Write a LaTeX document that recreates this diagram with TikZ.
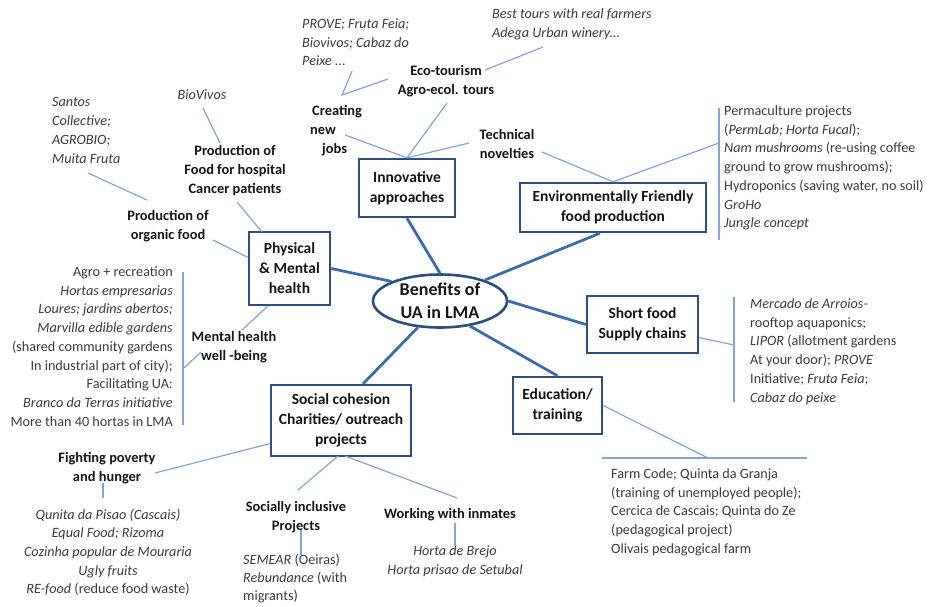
\documentclass[tikz,border=0pt]{standalone}
\usepackage{fontspec}
\setmainfont{Carlito}
\usetikzlibrary{shapes.geometric}
\definecolor{boxc}{HTML}{2B4F7E}
\definecolor{thickc}{HTML}{3C6BB0}
\definecolor{thinc}{HTML}{80A5D6}
\definecolor{txtc}{HTML}{3C3C3C}
\definecolor{boldc}{HTML}{151515}
\tikzset{
  box/.style={draw=boxc, line width=2.4pt, fill=white, align=center, inner sep=2pt,
    text=boldc, font=\bfseries\fontsize{15.5}{20}\selectfont},
  hub/.style={ellipse, draw=boxc, line width=2.6pt, fill=white, align=center, inner sep=0pt,
    minimum width=134, minimum height=53, text=boldc, font=\bfseries\fontsize{18}{23}\selectfont},
  thick/.style={draw=thickc, line width=2.8pt},
  thin/.style={draw=thinc, line width=1.2pt},
  lbl/.style={inner sep=0pt, yshift=-2.5pt, text=boldc, font=\bfseries\fontsize{14.4}{18.7}\selectfont},
  itx/.style={inner sep=0pt, yshift=-2.5pt, text=txtc, font=\itshape\fontsize{14.2}{18.7}\selectfont},
  rtx/.style={inner sep=0pt, yshift=-2.5pt, text=txtc, font=\fontsize{14.2}{18.7}\selectfont},
}
\begin{document}
\begin{tikzpicture}[x=1pt,y=-1pt]
\useasboundingbox[fill=white] (0,0) rectangle (936,606);

% ---- main nodes
\node[hub] (ctr) at (440,301) {Benefits of\\UA in LMA};
\node[box, minimum width=96, minimum height=58] (innov) at (407,188) {Innovative\\approaches};
\node[box, minimum width=186, minimum height=49] (env) at (613,207.5) {Environmentally Friendly\\food production};
\node[box, minimum width=81, minimum height=73] (phys) at (289.5,268.5) {Physical\\\& Mental\\health};
\node[box, minimum width=111, minimum height=57] (short) at (642.5,324.5) {Short food\\Supply chains};
\node[box, minimum width=89, minimum height=57] (edu) at (557.5,405.5) {Education/\\training};
\node[box, minimum width=140, minimum height=71] (social) at (341,420.5) {Social cohesion\\Charities/ outreach\\projects};

% ---- thick connectors
\draw[thick] (innov.south) -- (ctr.north);
\draw[thick] (ctr.25) -- (env.243);
\draw[thick] (phys.east) -- (ctr.158);
\draw[thick] (ctr.east) -- (short.west);
\draw[thick] (ctr.-40) -- (edu.north);
\draw[thick] (ctr.-130) -- (social.59);

% ---- labels: innovative branch
\node[itx, anchor=north west, align=left] (prove) at (302,16) {PROVE; Fruta Feia;\\Biovivos; Cabaz do\\Peixe ...};
\node[lbl, anchor=north west, align=left] (jobs) at (310,103) {\hspace*{2pt}Creating\\new\\\hspace*{12pt}jobs};
\node[lbl, anchor=north, align=center] (eco) at (446,63) {Eco-tourism\\Agro-ecol. tours};
\node[itx, anchor=north west, align=left] (best) at (492,6) {Best tours with real farmers\\Adega Urban winery...};
\node[lbl, anchor=north, align=center] (tech) at (507,127) {Technical\\novelties};

\coordinate (jobsR) at (345,135);
\coordinate (vtx) at (342,95);
\coordinate (proveB) at (352,71);
\coordinate (ecoL) at (388,79);
\coordinate (ecoR) at (485,70);
\coordinate (bestB) at (543,47);
\coordinate (agroB) at (447,103);
\coordinate (techL) at (469,143);
\coordinate (techR) at (542,152);
\draw[thin] (jobsR) -- (innov.north);
\draw[thin] (proveB) -- (vtx) -- (ecoL);
\draw[thin] (ecoR) -- (bestB);
\draw[thin] (agroB) -- (innov.north);
\draw[thin] (techL) -- (innov.north);

% ---- environmental branch
\node[rtx, anchor=north west, align=left] (envtxt) at (724,103) {Permaculture projects\\(\textit{PermLab; Horta Fucal});\\\textit{Nam mushrooms} (re-using coffee\\ground to grow mushrooms);\\Hydroponics (saving water, no soil)\\\textit{GroHo}\\\textit{Jungle concept}};
\coordinate (envbarT) at (719,108);
\coordinate (envbarB) at (719,240);
\coordinate (envbarM) at (719,143);
\draw[thin] (techR) -- (env.north);
\draw[thin] (env.north) -- (envbarM);
\draw[thin] (envbarT) -- (envbarB);

% ---- physical branch
\node[itx, anchor=north] (bio) at (202,87) {BioVivos};
\node[lbl, anchor=north, align=center] (hosp) at (235,143) {Production of\\Food for hospital\\Cancer patients};
\node[itx, anchor=north west, align=left] (santos) at (52,95) {Santos\\Collective;\\AGROBIO;\\Muita Fruta};
\node[lbl, anchor=north, align=center] (org) at (168,208) {Production of\\organic food};
\node[lbl, anchor=north, align=center] (ment) at (234,329) {Mental health\\well -being};
\node[rtx, anchor=north east, align=right] (leftlist) at (173,264) {Agro + recreation\\\textit{Hortas empresarias}\\\textit{Loures; jardins abertos;}\\\textit{Marvilla edible gardens}\\(shared community gardens\\In industrial part of city);\\Facilitating UA:\\\textit{Branco da Terras initiative}\\More than 40 hortas in LMA};
\coordinate (bioB) at (203,108);
\coordinate (hospT) at (220,143);
\coordinate (hospB) at (237,202);
\coordinate (physT) at (262,232);
\coordinate (santB) at (88,173);
\coordinate (orgT) at (147,200);
\coordinate (orgR) at (213,240);
\coordinate (mentT) at (242,330);
\coordinate (mentL) at (201,352);
\coordinate (mbar) at (184,368);
\coordinate (lbarT) at (183,272);
\coordinate (lbarB) at (183,425);
\draw[thin] (bioB) -- (hospT);
\draw[thin] (hospB) -- (physT);
\draw[thin] (santB) -- (orgT);
\draw[thin] (orgR) -- (phys.165);
\draw[thin] (phys.240) -- (mentT);
\draw[thin] (mentL) -- (mbar);
\draw[thin] (lbarT) -- (lbarB);

% ---- short food chains
\node[rtx, anchor=north west, align=left] (shorttxt) at (750,296) {\textit{Mercado de Arroios-}\\rooftop aquaponics;\\\textit{LIPOR} (allotment gardens\\At your door); \textit{PROVE}\\Initiative; \textit{Fruta Feia};\\\textit{Cabaz do peixe}};
\coordinate (sbarM) at (734,345);
\coordinate (sbarT) at (734,297);
\coordinate (sbarB) at (734,402);
\draw[thin] (short.-13) -- (sbarM);
\draw[thin] (sbarT) -- (sbarB);

% ---- education
\node[rtx, anchor=north west, align=left] (edutxt) at (611,466) {Farm Code; Quinta da Granja\\(training of unemployed people);\\Cercica de Cascais; Quinta do Ze\\(pedagogical project)\\Olivais pedagogical farm};
\coordinate (ehl) at (708,458);
\coordinate (ehlL) at (602,458);
\coordinate (ehlR) at (807,458);
\draw[thin] (edu.east) -- (ehl);
\draw[thin] (ehlL) -- (ehlR);

% ---- social cohesion
\node[lbl, anchor=north, align=center] (fight) at (107,450) {Fighting poverty\\and hunger};
\node[itx, anchor=north, align=center] (fightlist) at (108,506) {Qunita da Pisao (Cascais)\\Equal Food; Rizoma\\Cozinha popular de Mouraria\\Ugly fruits\\RE-food {\upshape(reduce food waste)}};
\node[lbl, anchor=north, align=center] (soci) at (296,499) {Socially inclusive\\Projects};
\node[rtx, anchor=north west, align=left, font=\fontsize{14.2}{18}\selectfont] (semear) at (243,551) {\textit{SEMEAR} (Oeiras)\\\textit{Rebundance} (with\\migrants)};
\node[lbl, anchor=north] (work) at (450,506) {Working with inmates};
\node[itx, anchor=north, align=center] (horta) at (455,543) {Horta de Brejo\\Horta prisao de Setubal};
\coordinate (fightR) at (155,473);
\coordinate (fbarT) at (103,483);
\coordinate (fbarB) at (103,498);
\coordinate (socB1) at (338,456);
\coordinate (socB2) at (345,456);
\coordinate (sociT) at (298,490);
\coordinate (workT) at (457,498);
\coordinate (pbarT) at (301,530);
\coordinate (pbarB) at (301,555);
\coordinate (wbarT) at (455,523);
\coordinate (wbarB) at (455,546);
\draw[thin] (fightR) -- (social.198);
\draw[thin] (fbarT) -- (fbarB);
\draw[thin] (socB1) -- (sociT);
\draw[thin] (socB2) -- (workT);
\draw[thin] (pbarT) -- (pbarB);
\draw[thin] (wbarT) -- (wbarB);
\end{tikzpicture}
\end{document}
